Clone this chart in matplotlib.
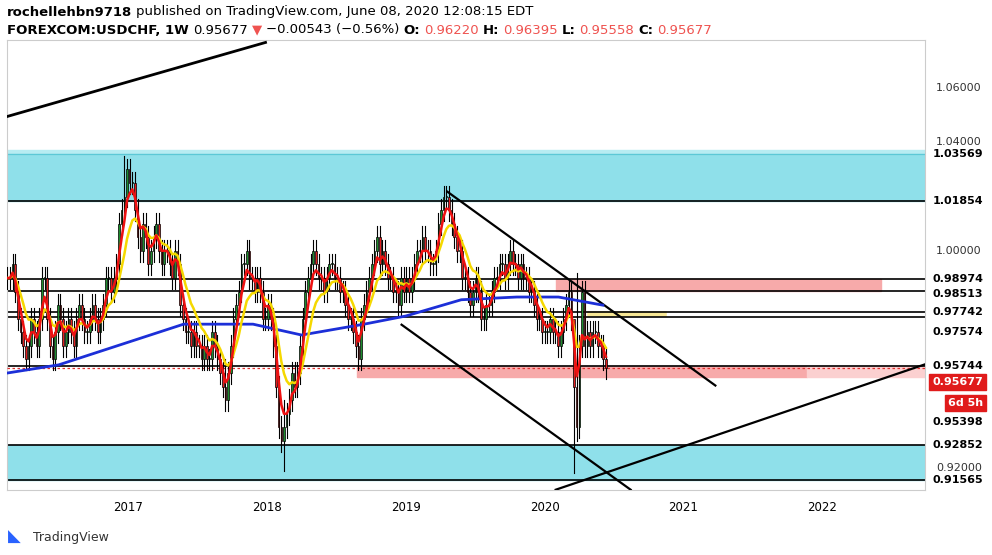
import matplotlib
matplotlib.use("Agg")
import matplotlib.pyplot as plt
from matplotlib.patches import Rectangle
import matplotlib.transforms as mtransforms

# weekly closes from mid-Feb 2016 to 2020-06-08
closes_2016 = [0.99, 0.99, 0.995, 0.985, 0.975, 0.97, 0.965, 0.96, 0.965, 0.975, 0.97, 0.965, 0.975, 0.99,
               0.99, 0.975, 0.965, 0.96, 0.97, 0.98, 0.975, 0.965, 0.97, 0.975, 0.97, 0.965, 0.975, 0.98,
               0.975, 0.97, 0.97, 0.975, 0.98, 0.975, 0.97, 0.975, 0.98, 0.99, 0.99, 0.985, 0.99, 0.995,
               1.01, 1.015, 1.02, 1.03, 1.025]
closes_2017 = [1.025, 1.015, 1.005, 1.0, 1.01, 1.005, 0.995, 1.0, 1.005, 1.01, 1.0, 0.995, 1.0, 1.0, 0.995,
               0.99, 1.0, 0.995, 0.98, 0.975, 0.97, 0.97, 0.965, 0.97, 0.965, 0.965, 0.96, 0.965, 0.96, 0.96,
               0.97, 0.965, 0.96, 0.955, 0.95, 0.945, 0.955, 0.965, 0.975, 0.98, 0.985, 0.995, 0.995, 1.0,
               0.99, 0.99, 0.985, 0.99, 0.985, 0.975, 0.975, 0.98]
closes_2018 = [0.975, 0.965, 0.95, 0.935, 0.93, 0.935, 0.94, 0.945, 0.955, 0.95, 0.955, 0.965, 0.975, 0.985,
               0.99, 0.995, 1.0, 0.995, 0.99, 0.99, 0.985, 0.99, 0.995, 0.995, 0.99, 0.99, 0.985, 0.985, 0.98,
               0.975, 0.975, 0.97, 0.965, 0.96, 0.975, 0.98, 0.985, 0.99, 0.995, 1.0, 1.005, 0.995, 1.0,
               0.995, 0.99, 0.99, 0.985, 0.985, 0.98, 0.99, 0.985, 0.99]
closes_2019 = [0.985, 0.99, 0.995, 1.0, 1.0, 1.005, 1.0, 1.0, 0.995, 0.995, 1.0, 1.01, 1.015, 1.02, 1.02,
               1.015, 1.01, 1.005, 1.0, 1.0, 0.99, 0.99, 0.985, 0.98, 0.985, 0.99, 0.985, 0.975, 0.975, 0.98,
               0.98, 0.985, 0.99, 0.99, 0.995, 0.995, 0.99, 0.995, 1.0, 0.995, 0.995, 0.99, 0.995, 0.99, 0.99,
               0.985, 0.985, 0.98, 0.975, 0.975, 0.97, 0.97]
closes_2020 = [0.97, 0.975, 0.97, 0.97, 0.965, 0.97, 0.975, 0.98, 0.985, 0.975, 0.95, 0.935, 0.965, 0.985,
               0.965, 0.97, 0.965, 0.97, 0.97, 0.965, 0.965, 0.96, 0.95677]
start_year = 2016.13
first_open = 0.99
# extra-long wicks for notable weeks (index: (high, low))
wick_overrides = {44: (1.035, 1.012), 82: (0.96, 0.941), 104: (0.945, 0.919),
                  213: (0.97, 0.918), 214: (0.992, 0.93)}

# long moving average (blue): (year, value)
blue_ma = [(2016.13, 0.955), (2016.5, 0.958), (2016.8, 0.963), (2017.4, 0.973), (2017.9, 0.973),
           (2018.25, 0.969), (2018.7, 0.973), (2019.0, 0.976), (2019.4, 0.982), (2019.8, 0.983),
           (2020.1, 0.983), (2020.42, 0.980)]

h_lines = [1.01854, 0.98974, 0.98513, 0.97742, 0.97574, 0.95744, 0.92852, 0.91565]
# (value, label position)
right_labels = [(1.03569, 1.03569), (1.01854, 1.01854), (0.98974, 0.98974), (0.98513, 0.98413),
                (0.97742, 0.97742), (0.97574, 0.97010), (0.95744, 0.95744), (0.95398, 0.9370),
                (0.92852, 0.92852), (0.91565, 0.91565)]
plain_ticks = [1.06, 1.04, 1.00, 0.92]
year_ticks = [2017, 2018, 2019, 2020, 2021, 2022]

closes = closes_2016 + closes_2017 + closes_2018 + closes_2019 + closes_2020
n = len(closes)
xs = [start_year + i / 52.18 for i in range(n)]
opens = [first_open] + closes[:-1]

def ema(vals, span):
    k = 2 / (span + 1)
    out = [vals[0]]
    for v in vals[1:]:
        out.append(out[-1] + k * (v - out[-1]))
    return out

fig = plt.figure(figsize=(9.92, 5.55), dpi=100)
ax = fig.add_axes([7 / 992, 65 / 555, 918 / 992, 450 / 555])
X0, X1 = 2016.128, 2022.74
ax.set_xlim(X0, X1)
ax.set_ylim(0.9119, 1.0777)

# zones
ax.add_patch(Rectangle((X0, 1.01854), X1 - X0, 1.03569 - 1.01854, color="#8fe0ea", zorder=1))
ax.add_patch(Rectangle((X0, 1.03569), X1 - X0, 0.0015, color="#b7ecf2", zorder=1))
ax.add_patch(Rectangle((X0, 0.91565), X1 - X0, 0.92852 - 0.91565, color="#8fe0ea", zorder=1))
ax.add_patch(Rectangle((2020.08, 0.98513), 2022.42 - 2020.08, 0.98974 - 0.98513, color="#f7aaaa", zorder=1))
ax.add_patch(Rectangle((2018.65, 0.9537), 2021.89 - 2018.65, 0.95744 - 0.9537, color="#f7aaaa", zorder=1))
ax.add_patch(Rectangle((2021.89, 0.9537), X1 - 2021.89, 0.95744 - 0.9537, color="#fbd0d0", zorder=1))
ax.plot([2020.33, 2020.86], [0.9768, 0.9768], color="#f5e27a", lw=4, alpha=0.8, zorder=2)

for y in h_lines:
    ax.axhline(y, color="black", lw=1.2, zorder=2)
ax.axhline(1.03569, color="#5cc8d6", lw=1, zorder=2)
ax.axhline(0.95677, color="#e23030", lw=0.9, ls=(0, (2, 2)), zorder=3)

# trend lines
ax.plot([2016.128, 2017.99], [1.0495, 1.0768], color="black", lw=2, zorder=4)
ax.plot([2019.3, 2021.23], [1.0218, 0.9504], color="black", lw=1.6, zorder=4)
ax.plot([2018.97, 2020.62], [0.9728, 0.9120], color="black", lw=1.6, zorder=4)
ax.plot([2020.08, 2022.74], [0.9120, 0.9582], color="black", lw=1.6, zorder=4)

# candles
w = 0.6 / 52.18
for i, (x, o, c) in enumerate(zip(xs, opens, closes)):
    hi, lo = wick_overrides.get(i, (max(o, c) + 0.004, min(o, c) - 0.004))
    ax.plot([x, x], [lo, hi], color="black", lw=0.8, zorder=5)
    col = "#1e8c2e" if c >= o else "#e02020"
    ax.add_patch(Rectangle((x - w / 2, min(o, c)), w, max(abs(c - o), 0.0004),
                           facecolor=col, edgecolor="black", lw=0.5, zorder=6))

ax.plot([p[0] for p in blue_ma], [p[1] for p in blue_ma], color="#1c2fd8", lw=2, zorder=7)
ax.plot(xs, ema(closes, 10), color="#f5d800", lw=1.8, zorder=7)
ax.plot(xs, ema(closes, 4), color="#ee1111", lw=1.8, zorder=8)

ax.set_xticks(year_ticks)
ax.set_xticklabels([str(y) for y in year_ticks], fontsize=8.5)
ax.set_yticks([])
ax.tick_params(axis="x", length=0, pad=8)
for s in ax.spines.values():
    s.set_color("#cccccc")
    s.set_linewidth(0.8)

tr = mtransforms.blended_transform_factory(ax.transAxes, ax.transData)
for y in plain_ticks:
    ax.text(1.012, y, f"{y:.5f}", transform=tr, fontsize=8, va="center", color="#333333", clip_on=False)
for y, ypos in right_labels:
    ax.text(1.008, ypos, f"{y:.5f}", transform=tr, fontsize=8, va="center", fontweight="bold",
            color="black", clip_on=False, bbox=dict(boxstyle="square,pad=0.25", fc="white", ec="white"))
ax.text(1.008, 0.9517, "0.95677", transform=tr, fontsize=8, va="center", fontweight="bold",
        color="white", clip_on=False, bbox=dict(boxstyle="square,pad=0.3", fc="#e01b1b", ec="#e01b1b"))
ax.text(1.025, 0.9440, "6d 5h", transform=tr, fontsize=8, va="center", fontweight="bold",
        color="white", clip_on=False, bbox=dict(boxstyle="square,pad=0.3", fc="#e01b1b", ec="#e01b1b"))

# header: pieces placed one after another
fig.canvas.draw()
renderer = fig.canvas.get_renderer()
def run_text(y_px, pieces):
    x = 7
    for txt, weight, color in pieces:
        t = fig.text(x / 992, 1 - y_px / 555, txt, fontsize=9.5, fontweight=weight, color=color,
                     va="center", family="Liberation Sans Narrow")
        x += t.get_window_extent(renderer).width + 4
run_text(12, [("rochellehbn9718", "bold", "black"),
              ("published on TradingView.com, June 08, 2020 12:08:15 EDT", "normal", "black")])
run_text(30, [("FOREXCOM:USDCHF, 1W", "bold", "black"), ("0.95677", "normal", "black"),
              ("\u25bc", "normal", "#ef5350"), ("\u22120.00543 (\u22120.56%)", "normal", "black"),
              ("O:", "bold", "black"), ("0.96220", "normal", "#ef5350"),
              ("H:", "bold", "black"), ("0.96395", "normal", "#ef5350"),
              ("L:", "bold", "black"), ("0.95558", "normal", "#ef5350"),
              ("C:", "bold", "black"), ("0.95677", "normal", "#ef5350")])
fig.text(33 / 992, 1 - 537 / 555, "TradingView", fontsize=9, color="#333333", va="center")
fig.text(8 / 992, 1 - 537 / 555, "\u25e3", fontsize=12, color="#2962ff", va="center")

fig.savefig("out.png", dpi=100)
